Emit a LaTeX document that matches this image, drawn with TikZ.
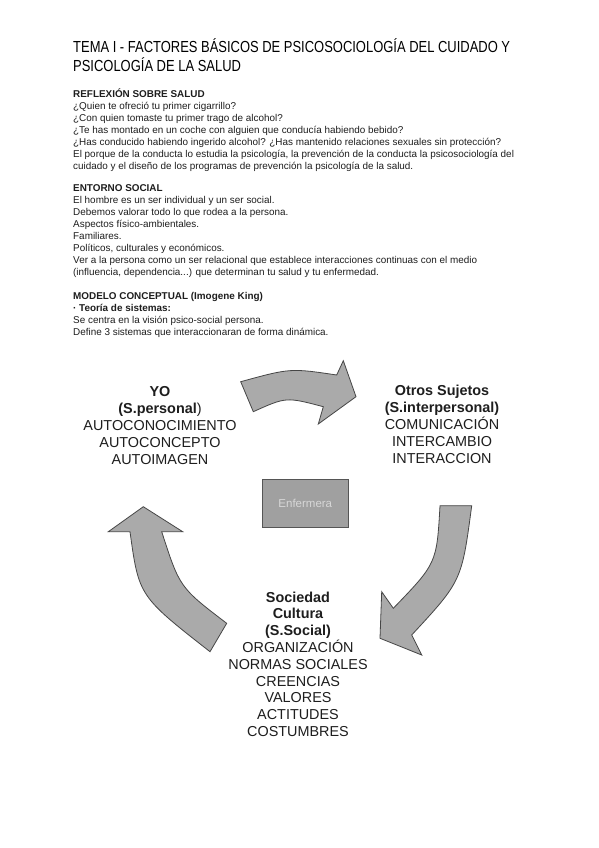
\documentclass[tikz,border=0pt]{standalone}
\usepackage{fontspec}
\setmainfont{Liberation Sans}
\usepackage{graphicx}
\usetikzlibrary{positioning}
\definecolor{textcolor}{RGB}{30, 30, 30}
\definecolor{arrowfill}{RGB}{170, 170, 170}
\definecolor{arrowdraw}{RGB}{70, 70, 70}
\definecolor{boxfill}{RGB}{160, 160, 160}
\definecolor{boxdraw}{RGB}{85, 85, 85}
\definecolor{boxtext}{RGB}{215, 215, 215}
\tikzset{
titletext/.style={
  anchor=north west,
  inner sep=0pt,
  align=left,
  font=\fontsize{16}{19}\selectfont,
  text=black
},
bodytext/.style={
  anchor=north west,
  inner sep=0pt,
  align=left,
  font=\fontsize{9.9}{12}\selectfont,
  text=textcolor
},
systemtext/.style={
  anchor=north,
  inner sep=0pt,
  align=center,
  font=\fontsize{14.4}{17}\selectfont,
  text=textcolor
},
cyclearrow/.style={
  fill=arrowfill,
  draw=arrowdraw,
  line width=0.8pt,
  line join=miter
},
nursebox/.style={
  draw=boxdraw,
  fill=boxfill,
  line width=1pt,
  minimum width=86pt,
  minimum height=48pt,
  text=boxtext,
  font=\fontsize{11.5}{13}\selectfont
}
}

\begin{document}
\begin{tikzpicture}[x=1pt, y=-1pt]
  \useasboundingbox[fill=white] (0,0) rectangle (599,848);

  % Title
  \node[titletext] (titulo) at (73,38.5) {
    \scalebox{0.81}[1]{TEMA I - FACTORES BÁSICOS DE PSICOSOCIOLOGÍA DEL CUIDADO Y}\\
    \scalebox{0.81}[1]{PSICOLOGÍA DE LA SALUD}
  };

  % Text sections
  \node[bodytext] (reflexion) at (73,89) {
    \textbf{REFLEXIÓN SOBRE SALUD}\\
    ¿Quien te ofreció tu primer cigarrillo?\\
    ¿Con quien tomaste tu primer trago de alcohol?\\
    ¿Te has montado en un coche con alguien que conducía habiendo bebido?\\
    ¿Has conducido habiendo ingerido alcohol? ¿Has mantenido relaciones sexuales sin protección?\\
    El porque de la conducta lo estudia la psicología, la prevención de la conducta la psicosociología del\\
    cuidado y el diseño de los programas de prevención la psicología de la salud.
  };
  \node[bodytext] (entorno) at (73,184) {
    \textbf{ENTORNO SOCIAL}\\
    El hombre es un ser individual y un ser social.\\
    Debemos valorar todo lo que rodea a la persona.\\
    Aspectos físico-ambientales.\\
    Familiares.\\
    Políticos, culturales y económicos.\\
    Ver a la persona como un ser relacional que establece interacciones continuas con el medio\\
    (influencia, dependencia...) que determinan tu salud y tu enfermedad.
  };
  \node[bodytext] (modelo) at (73,292) {
    \textbf{MODELO CONCEPTUAL (Imogene King)}\\
    \textbf{· Teoría de sistemas:}\\
    Se centra en la visión psico-social persona.\\
    Define 3 sistemas que interaccionaran de forma dinámica.
  };

  % Three systems
  \node[systemtext] (yo) at (160,386) {
    \textbf{YO}\\
    \textbf{(S.personal})\\
    AUTOCONOCIMIENTO\\
    AUTOCONCEPTO\\
    AUTOIMAGEN
  };
  \node[systemtext] (otros) at (442,385) {
    \textbf{Otros Sujetos}\\
    \textbf{(S.interpersonal)}\\
    COMUNICACIÓN\\
    INTERCAMBIO\\
    INTERACCION
  };
  \node[systemtext, font=\fontsize{14.4}{16.8}\selectfont] (sociedad) at (298,591.5) {
    \textbf{Sociedad}\\
    \textbf{Cultura}\\
    \textbf{(S.Social)}\\
    ORGANIZACIÓN\\
    NORMAS SOCIALES\\
    CREENCIAS\\
    VALORES\\
    ACTITUDES\\
    COSTUMBRES
  };

  % Centre box
  \node[nursebox] (enfermera) at (305.3,503.3) {Enfermera};

  % Curved arrows
  \draw[cyclearrow] (240.7,381.7) .. controls (290.4,368.1) .. (336.7,375)
    -- (343.3,360.7) -- (356,396.7) -- (318.3,424) -- (323.3,406.7)
    .. controls (286.2,396.9) .. (253.3,411.7) -- cycle;
  \draw[cyclearrow] (440,505.7) -- (471.7,505.7)
    .. controls (461.7,581) .. (411.7,635)
    -- (421.7,655) -- (380,638.3) -- (381.7,591.7) -- (393.3,608.3)
    .. controls (436.7,563.3) .. (440,505.7) -- cycle;
  \draw[cyclearrow] (143.3,506.7) -- (182.7,531.7) -- (161.7,531.7)
    .. controls (179.7,587.5) .. (226.7,623.3)
    -- (210,651.7)
    .. controls (138.9,596.1) .. (130,531.7)
    -- (108.3,531.7) -- cycle;
\end{tikzpicture}
\end{document}
